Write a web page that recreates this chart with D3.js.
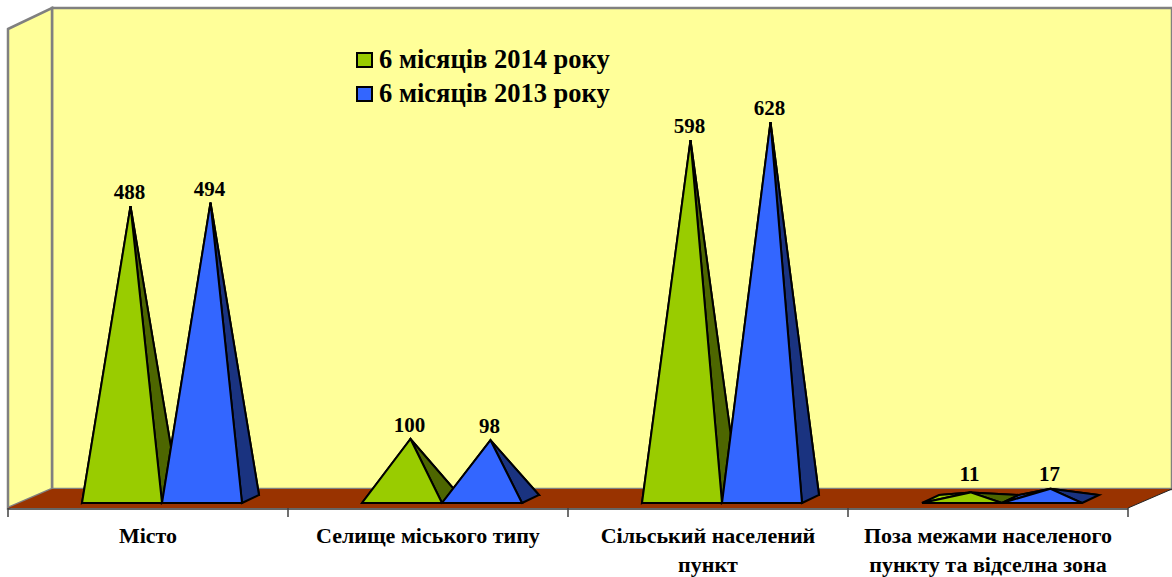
<!DOCTYPE html>
<html lang="uk">
<head>
    <meta charset="UTF-8">
    <title>Chart</title>
    <script src="https://d3js.org/d3.v7.min.js"></script>
    <style>
        body { margin: 0; background: #fff; }
    </style>
</head>
<body>
    <div id="chart"></div>
    <script>

        const categories = [
            ['Місто'],
            ['Селище міського типу'],
            ['Сільський населений', 'пункт'],
            ['Поза межами населеного', 'пункту та відселна зона']
        ];
        const seriesNames = ['6 місяців 2014 року', '6 місяців 2013 року'];
        const values2014 = [488, 100, 598, 11];
        const values2013 = [494, 98, 628, 17];

        const frontColors = ['#99cc00', '#3366ff'];
        const sideColors = ['#4d6600', '#1a3380'];

        var width = 1172;
        var height = 577;
        var font = "'Liberation Serif', 'Times New Roman', Times, 'DejaVu Serif', serif";

        // depth offsets of the 3D box and of each pyramid base
        var wallDx = 44, wallDy = -19;
        var baseDx = 17, baseDy = -8;
        var floorFront = 508, frontBase = 503;

        var svg = d3.select("#chart")
            .append("svg")
            .attr("width", width)
            .attr("height", height)
            .style("font-family", font)
            .style("font-weight", "bold");

        var x0 = d3.scaleBand()
            .domain(d3.range(categories.length))
            .range([8, 1128]);

        var x1 = d3.scaleBand()
            .domain(d3.range(seriesNames.length))
            .range([74, 234]);

        // apex height, measured at the middle of the pyramid base
        var y = d3.scaleLinear()
            .domain([0, 800])
            .range([frontBase + baseDy / 2, frontBase + baseDy / 2 - 480]);

        var left = x0.range()[0], right = x0.range()[1];
        var backTop = 8;

        // back wall
        svg.append("rect")
            .attr("x", left + wallDx)
            .attr("y", backTop)
            .attr("width", right - left)
            .attr("height", floorFront + wallDy - backTop)
            .attr("fill", "#ffff99")
            .attr("stroke", "#808080")
            .attr("stroke-width", 2.5);

        // left wall
        svg.append("polygon")
            .attr("points", [
                [left, backTop - wallDy + 2],
                [left + wallDx, backTop],
                [left + wallDx, floorFront + wallDy],
                [left, floorFront]
            ].join(" "))
            .attr("fill", "#ffff99")
            .attr("stroke", "#808080")
            .attr("stroke-width", 2.5);

        // floor
        svg.append("polygon")
            .attr("points", [
                [left, floorFront],
                [left + wallDx, floorFront + wallDy],
                [right + wallDx, floorFront + wallDy],
                [right, floorFront]
            ].join(" "))
            .attr("fill", "#993300");

        svg.append("line")
            .attr("x1", right).attr("y1", floorFront)
            .attr("x2", right + wallDx).attr("y2", floorFront + wallDy)
            .attr("stroke", "#222").attr("stroke-width", 1);

        // category axis
        svg.append("line")
            .attr("x1", left).attr("y1", floorFront + 1)
            .attr("x2", right).attr("y2", floorFront + 1)
            .attr("stroke", "#333").attr("stroke-width", 1.5);

        var ticks = x0.domain().map(function(d) { return x0(d); }).concat([right]);
        svg.selectAll(".tick")
            .data(ticks)
            .enter().append("line")
            .attr("class", "tick")
            .attr("x1", function(d) { return d; })
            .attr("x2", function(d) { return d; })
            .attr("y1", floorFront)
            .attr("y2", floorFront + 9)
            .attr("stroke", "#404040")
            .attr("stroke-width", 1.5);

        // pyramids
        var allValues = [values2014, values2013];

        categories.forEach(function(c, ci) {
            allValues.forEach(function(vals, si) {
                var fl = x0(ci) + x1(si);
                var fr = fl + x1.bandwidth();
                var bl = [fl + baseDx, frontBase + baseDy];
                var br = [fr + baseDx, frontBase + baseDy];
                var apex = [(fl + fr) / 2 + baseDx / 2, y(vals[ci])];
                var faces = [
                    { pts: [bl, br, apex], fill: sideColors[si] },
                    { pts: [[fl, frontBase], bl, apex], fill: frontColors[si] },
                    { pts: [[fr, frontBase], br, apex], fill: sideColors[si] },
                    { pts: [[fl, frontBase], [fr, frontBase], apex], fill: frontColors[si] }
                ];
                var g = svg.append("g");
                g.selectAll("polygon")
                    .data(faces)
                    .enter().append("polygon")
                    .attr("points", function(d) { return d.pts.join(" "); })
                    .attr("fill", function(d) { return d.fill; })
                    .attr("stroke", "#000")
                    .attr("stroke-width", 2)
                    .attr("stroke-linejoin", "miter");

                svg.append("text")
                    .attr("x", apex[0] - 1)
                    .attr("y", Math.min(apex[1] - 7, 481))
                    .attr("text-anchor", "middle")
                    .attr("font-size", "21px")
                    .text(vals[ci]);
            });
        });

        // category labels
        categories.forEach(function(lines, ci) {
            var t = svg.append("text")
                .attr("x", x0(ci) + x0.bandwidth() / 2)
                .attr("y", 543)
                .attr("text-anchor", "middle")
                .attr("font-size", "22px");
            lines.forEach(function(l, li) {
                t.append("tspan")
                    .attr("x", x0(ci) + x0.bandwidth() / 2)
                    .attr("dy", li === 0 ? 0 : 29)
                    .text(l);
            });
        });

        // legend
        var legend = svg.append("g")
            .attr("transform", "translate(357,53)");

        var item = legend.selectAll(".item")
            .data(seriesNames)
            .enter().append("g")
            .attr("class", "item")
            .attr("transform", function(d, i) { return "translate(0," + i * 34 + ")"; });

        item.append("rect")
            .attr("width", 15)
            .attr("height", 14)
            .attr("fill", function(d, i) { return frontColors[i]; })
            .attr("stroke", "#000")
            .attr("stroke-width", 2);

        item.append("text")
            .attr("x", 22)
            .attr("y", 15)
            .attr("font-size", "26.5px")
            .text(function(d) { return d; });
    </script>
</body>
</html>
